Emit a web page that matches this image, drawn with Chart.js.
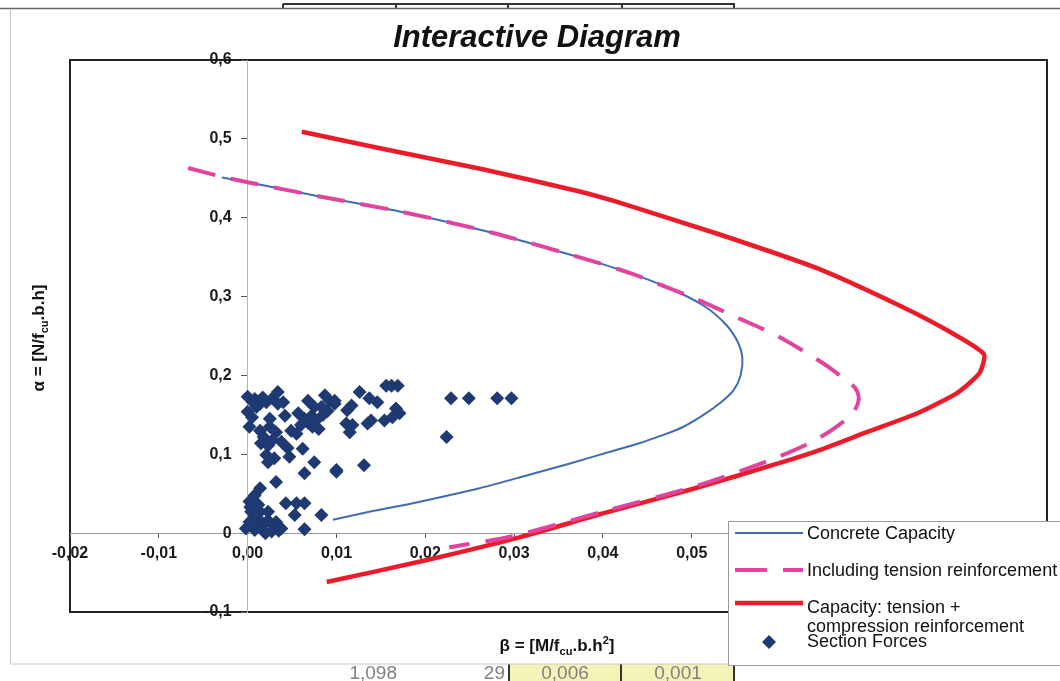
<!DOCTYPE html>
<html>
<head>
<meta charset="utf-8">
<script src="https://cdn.jsdelivr.net/npm/chart.js@4.4.1/dist/chart.umd.min.js"></script>
<style>
html, body { margin: 0; padding: 0; background: #fff; }
</style>
</head>
<body>
<canvas id="interactiveDiagram" width="1060" height="681"></canvas>
<script>
// Concrete Capacity
var concreteBeta  = [-0.0029, 0.0000, 0.0081, 0.0171, 0.0272, 0.0373, 0.0430, 0.0478, 0.0514, 0.0539, 0.0552, 0.0557, 0.0555, 0.0547, 0.0532, 0.0512, 0.0489, 0.0464, 0.0441, 0.0407, 0.0362, 0.0317, 0.0261, 0.0186, 0.0137, 0.0096];
var concreteAlpha = [0.451, 0.445, 0.427, 0.408, 0.382, 0.350, 0.330, 0.309, 0.288, 0.264, 0.242, 0.223, 0.200, 0.181, 0.165, 0.149, 0.134, 0.123, 0.114, 0.103, 0.088, 0.074, 0.057, 0.038, 0.027, 0.017];

// Including tension reinforcement
var tensionBeta  = [-0.0067, -0.0029, 0.0000, 0.0081, 0.0171, 0.0272, 0.0373, 0.0430, 0.0478, 0.0501, 0.0550, 0.0598, 0.0647, 0.0669, 0.0684, 0.0688, 0.0681, 0.0658, 0.0632, 0.0598, 0.0553, 0.0497, 0.0399, 0.0298, 0.0227];
var tensionAlpha = [0.463, 0.452, 0.445, 0.427, 0.408, 0.382, 0.350, 0.330, 0.309, 0.299, 0.274, 0.249, 0.216, 0.198, 0.184, 0.169, 0.152, 0.131, 0.114, 0.097, 0.078, 0.057, 0.027, -0.004, -0.018];

// Capacity: tension + compression reinforcement
var compBeta  = [0.0061, 0.0149, 0.0262, 0.0375, 0.0416, 0.0528, 0.0641, 0.0735, 0.0791, 0.0829, 0.0824, 0.0799, 0.0754, 0.0697, 0.0648, 0.0599, 0.0498, 0.0400, 0.0307, 0.0202, 0.0089];
var compAlpha = [0.509, 0.488, 0.462, 0.433, 0.420, 0.380, 0.336, 0.288, 0.255, 0.227, 0.203, 0.178, 0.152, 0.128, 0.107, 0.089, 0.055, 0.025, -0.005, -0.034, -0.062];

// Section Forces
var sectionBeta = [0.0000, 0.0006, 0.0014, 0.0021, 0.0028, 0.0034, 0.0034, 0.0040, 0.0068, 0.0087, 0.0092, 0.0098, 0.0083, 0.0000, 0.0025, 0.0042, 0.0057, 0.0064, 0.0072, 0.0077, 0.0073, 0.0002, 0.0014, 0.0025, 0.0032, 0.0049, 0.0055, 0.0060, 0.0015, 0.0023, 0.0038, 0.0021, 0.0030, 0.0023, 0.0047, 0.0062, 0.0075, 0.0064, 0.0100, 0.0032, 0.0014, 0.0008, 0.0002, 0.0043, 0.0055, 0.0064, 0.0004, 0.0014, 0.0023, 0.0053, 0.0083, 0.0002, 0.0012, 0.0023, 0.0032, -0.0002, 0.0008, 0.0017, 0.0027, 0.0038, 0.0064,
    0.0098, 0.0126, 0.0137, 0.0146, 0.0117, 0.0112, 0.0156, 0.0162, 0.0169, 0.0167, 0.0171, 0.0163, 0.0154, 0.0139, 0.0135, 0.0111, 0.0118, 0.0115, 0.0229, 0.0249, 0.0281, 0.0297, 0.0224, 0.0100, 0.0131,
    0.0008, 0.0017, 0.0010, 0.0005, 0.0075, 0.0085, 0.0068, 0.0080, 0.0090, 0.0018, 0.0028, 0.0045, 0.0005, 0.0010, 0.0018, 0.0003, 0.0012, 0.0028, 0.0020, 0.0035];
var sectionAlpha = [0.173, 0.166, 0.164, 0.166, 0.171, 0.179, 0.164, 0.166, 0.168, 0.175, 0.168, 0.164, 0.160, 0.154, 0.145, 0.149, 0.152, 0.145, 0.149, 0.143, 0.135, 0.135, 0.130, 0.135, 0.128, 0.130, 0.126, 0.137, 0.114, 0.111, 0.116, 0.099, 0.095, 0.090, 0.097, 0.107, 0.090, 0.076, 0.078, 0.065, 0.057, 0.048, 0.040, 0.038, 0.038, 0.038, 0.027, 0.027, 0.027, 0.023, 0.023, 0.014, 0.014, 0.016, 0.014, 0.006, 0.004, 0.004, 0.002, 0.006, 0.005,
    0.168, 0.179, 0.171, 0.166, 0.162, 0.156, 0.187, 0.187, 0.187, 0.158, 0.152, 0.147, 0.143, 0.143, 0.139, 0.139, 0.137, 0.128, 0.171, 0.171, 0.171, 0.171, 0.122, 0.080, 0.086,
    0.170, 0.172, 0.160, 0.147, 0.160, 0.150, 0.140, 0.132, 0.155, 0.122, 0.118, 0.108, 0.010, 0.020, 0.012, 0.033, 0.036, 0.010, 0.000, 0.003];

var FONT = '"Liberation Sans", Arial, sans-serif';
var BLUE = '#3f6cb4', PINK = '#e0449c', RED = '#ec1b2a', NAVY = '#1f3a72';

function toPoints(xs, ys) {
    return xs.map(function (x, i) { return { x: x, y: ys[i] }; });
}

// text with sub/superscript parts: [text, 0 normal | 1 sub | 2 sup]
function drawRichText(ctx, parts, cx, y, size) {
    var total = 0;
    parts.forEach(function (p) {
        ctx.font = 'bold ' + (p[1] ? size * 0.65 : size) + 'px ' + FONT;
        total += ctx.measureText(p[0]).width;
    });
    var x = cx - total / 2;
    ctx.textAlign = 'left';
    ctx.textBaseline = 'alphabetic';
    parts.forEach(function (p) {
        ctx.font = 'bold ' + (p[1] ? size * 0.65 : size) + 'px ' + FONT;
        var dy = p[1] === 1 ? size * 0.25 : (p[1] === 2 ? -size * 0.42 : 0);
        ctx.fillText(p[0], x, y + dy);
        x += ctx.measureText(p[0]).width;
    });
}

var decorPlugin = {
    id: 'decor',
    beforeDraw: function (chart) {
        var ctx = chart.ctx, a = chart.chartArea;
        ctx.save();
        ctx.fillStyle = '#fff';
        ctx.fillRect(0, 0, chart.width, chart.height);

        // spreadsheet bits around the chart object
        ctx.fillStyle = '#f5f2b8';
        ctx.fillRect(509, 664, 225, 17);
        ctx.fillStyle = '#808080';
        ctx.font = '19px ' + FONT;
        ctx.textBaseline = 'alphabetic';
        ctx.textAlign = 'right';
        ctx.fillText('1,098', 397, 679);
        ctx.fillText('29', 505, 679);
        ctx.textAlign = 'center';
        ctx.fillText('0,006', 565, 679);
        ctx.fillText('0,001', 678, 679);
        ctx.strokeStyle = '#333';
        ctx.lineWidth = 2;
        [509, 621, 734].forEach(function (x) {
            ctx.beginPath(); ctx.moveTo(x, 664); ctx.lineTo(x, 681); ctx.stroke();
        });
        ctx.beginPath(); ctx.moveTo(283, 4); ctx.lineTo(735, 4); ctx.stroke();
        [283, 396, 508, 622, 734].forEach(function (x) {
            ctx.beginPath(); ctx.moveTo(x, 4); ctx.lineTo(x, 9); ctx.stroke();
        });

        // chart object frame
        ctx.fillStyle = '#fff';
        ctx.fillRect(10, 9, 1050, 655);
        ctx.lineWidth = 1.5;
        ctx.strokeStyle = '#666';
        ctx.beginPath(); ctx.moveTo(0, 8.5); ctx.lineTo(1060, 8.5); ctx.stroke();
        ctx.lineWidth = 1;
        ctx.strokeStyle = '#c8c8c8';
        ctx.beginPath(); ctx.moveTo(10.5, 9); ctx.lineTo(10.5, 664); ctx.lineTo(1060, 664); ctx.stroke();

        // plot area border
        ctx.lineWidth = 2;
        ctx.strokeStyle = '#222';
        ctx.strokeRect(a.left, a.top, a.right - a.left, a.bottom - a.top);
        ctx.restore();
    },
    afterDraw: function (chart) {
        var ctx = chart.ctx;
        ctx.save();
        ctx.fillStyle = '#111';

        // title
        ctx.font = 'italic bold 31px ' + FONT;
        ctx.textAlign = 'center';
        ctx.textBaseline = 'alphabetic';
        ctx.fillText('Interactive Diagram', 537, 47);

        // axis titles
        drawRichText(ctx, [['\u03b2 = [M/f', 0], ['cu', 1], ['.b.h', 0], ['2', 2], [']', 0]], 557, 651, 17);
        ctx.save();
        ctx.translate(44, 338);
        ctx.rotate(-Math.PI / 2);
        drawRichText(ctx, [['\u03b1 = [N/f', 0], ['cu', 1], ['.b.h]', 0]], 0, 0, 17);
        ctx.restore();

        // legend
        ctx.fillStyle = '#fff';
        ctx.fillRect(728, 521, 340, 145);
        ctx.strokeStyle = '#9a9a9a';
        ctx.lineWidth = 1;
        ctx.strokeRect(728.5, 521.5, 340, 144);

        ctx.lineCap = 'butt';
        ctx.strokeStyle = BLUE; ctx.lineWidth = 2;
        ctx.beginPath(); ctx.moveTo(735, 533); ctx.lineTo(803, 533); ctx.stroke();
        ctx.strokeStyle = PINK; ctx.lineWidth = 4;
        ctx.setLineDash([32, 16]);
        ctx.beginPath(); ctx.moveTo(735, 570); ctx.lineTo(803, 570); ctx.stroke();
        ctx.setLineDash([]);
        ctx.strokeStyle = RED; ctx.lineWidth = 4.5;
        ctx.beginPath(); ctx.moveTo(735, 603); ctx.lineTo(803, 603); ctx.stroke();
        ctx.fillStyle = NAVY;
        ctx.beginPath();
        ctx.moveTo(769, 635); ctx.lineTo(776, 642); ctx.lineTo(769, 649); ctx.lineTo(762, 642);
        ctx.closePath(); ctx.fill();

        ctx.fillStyle = '#111';
        ctx.font = '18px ' + FONT;
        ctx.textAlign = 'left';
        ctx.fillText('Concrete Capacity', 807, 539);
        ctx.fillText('Including tension reinforcement', 807, 576);
        ctx.fillText('Capacity: tension +', 807, 613);
        ctx.fillText('compression reinforcement', 807, 632);
        ctx.fillText('Section Forces', 807, 647);
        ctx.restore();
    }
};

var ctx = document.getElementById('interactiveDiagram').getContext('2d');
var diagram = new Chart(ctx, {
    type: 'scatter',
    data: {
        datasets: [{
            label: 'Section Forces',
            data: toPoints(sectionBeta, sectionAlpha),
            pointStyle: 'rectRot',
            pointRadius: 7,
            backgroundColor: NAVY,
            borderColor: NAVY,
            borderWidth: 0,
            order: 1
        }, {
            label: 'Including tension reinforcement',
            data: toPoints(tensionBeta, tensionAlpha),
            showLine: true,
            borderColor: PINK,
            borderWidth: 4,
            borderDash: [28, 16],
            pointRadius: 0,
            tension: 0.3,
            order: 2
        }, {
            label: 'Concrete Capacity',
            data: toPoints(concreteBeta, concreteAlpha),
            showLine: true,
            borderColor: BLUE,
            borderWidth: 2,
            pointRadius: 0,
            tension: 0.3,
            order: 3
        }, {
            label: 'Capacity: tension + compression reinforcement',
            data: toPoints(compBeta, compAlpha),
            showLine: true,
            borderColor: RED,
            borderWidth: 4.5,
            pointRadius: 0,
            tension: 0.2,
            order: 4
        }]
    },
    options: {
        responsive: false,
        animation: false,
        devicePixelRatio: 1,
        layout: { padding: { left: 70, top: 60, right: 13, bottom: 69 } },
        plugins: {
            legend: { display: false },
            title: { display: false },
            tooltip: { enabled: false }
        },
        scales: {
            x: {
                type: 'linear',
                min: -0.02,
                max: 0.09,
                position: { y: 0 },
                grid: { drawOnChartArea: false, drawTicks: true, tickLength: 4, color: '#555' },
                border: { color: '#9a9a9a', width: 1 },
                ticks: {
                    stepSize: 0.01,
                    padding: 7,
                    color: '#1a1a1a',
                    font: { family: FONT, size: 16, weight: 'bold' },
                    callback: function (v) {
                        if (v > 0.055) return '';   // hidden behind the legend anyway
                        if (Math.abs(v) < 1e-9) v = 0;
                        return v.toFixed(2).replace('.', ',');
                    }
                }
            },
            y: {
                type: 'linear',
                min: -0.1,
                max: 0.6,
                position: { x: 0 },
                grid: { drawOnChartArea: false, drawTicks: true, tickLength: 6, color: '#555' },
                border: { color: '#b5b5b5', width: 1 },
                ticks: {
                    stepSize: 0.1,
                    color: '#1a1a1a',
                    font: { family: FONT, size: 16, weight: 'bold' },
                    // labels of a centred axis sit on the axis line, so pad them with spaces
                    callback: function (v) {
                        var s = Math.abs(v) < 1e-9 ? '0' : v.toFixed(1).replace('.', ',');
                        return s + '\u2002\u2002';
                    }
                }
            }
        }
    },
    plugins: [decorPlugin]
});
</script>
</body>
</html>
